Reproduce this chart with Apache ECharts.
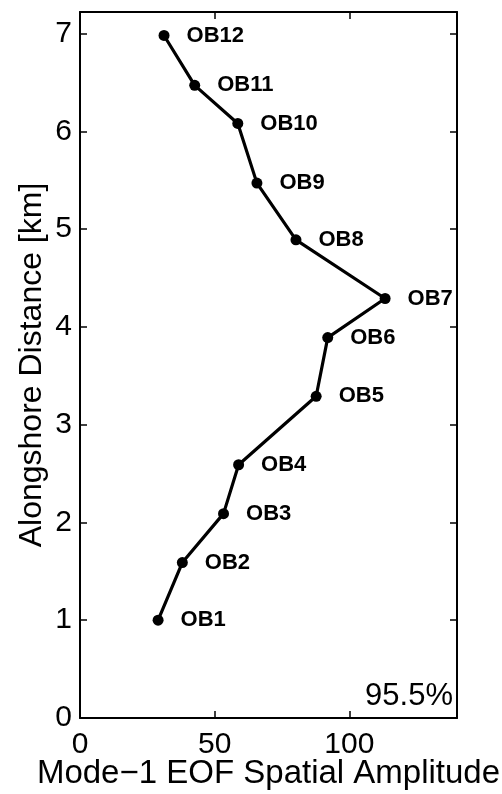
<!DOCTYPE html>
<html>
<head>
<meta charset="utf-8">
<script src="https://cdn.jsdelivr.net/npm/echarts@6/dist/echarts.min.js"></script>
<style>
  html, body { margin: 0; padding: 0; background: #fff; }
  #chart { width: 502px; height: 794px; }
</style>
</head>
<body>
<div id="chart"></div>
<script>
// Station names, alongshore position [km] and mode-1 EOF amplitude
const stations = ['OB1', 'OB2', 'OB3', 'OB4', 'OB5', 'OB6', 'OB7', 'OB8', 'OB9', 'OB10', 'OB11', 'OB12'];
const distanceKm = [1.0, 1.59, 2.09, 2.59, 3.29, 3.89, 4.29, 4.89, 5.47, 6.08, 6.47, 6.98];
const amplitude = [29.0, 38.0, 53.3, 58.9, 87.7, 92.0, 113.3, 80.2, 65.7, 58.6, 42.6, 31.2];
const xTicks = [0, 50, 100];
const yTicks = [0, 1, 2, 3, 4, 5, 6, 7];
const varianceText = '95.5%';

const FONT = 'Liberation Sans, Arial, Helvetica, sans-serif';

const points = amplitude.map((a, i) => ({ value: [a, distanceKm[i]], name: stations[i] }));

const chart = echarts.init(document.getElementById('chart'), null, { renderer: 'canvas' });

const axisLine = { show: true, onZero: false, lineStyle: { color: '#000', width: 2 } };
const innerTick = { show: true, inside: true, length: 7, lineStyle: { color: '#000', width: 1.5 } };

chart.setOption({
  animation: false,
  backgroundColor: '#fff',
  grid: { left: 80, right: 45, top: 12, bottom: 76, containLabel: false, outerBoundsMode: 'none' },
  xAxis: [
    {
      type: 'value', min: 0, max: 140, interval: 50, position: 'bottom',
      name: 'Mode\u22121 EOF Spatial Amplitude', nameLocation: 'middle', nameGap: 39,
      nameMoveOverlap: false,
      nameTextStyle: { fontFamily: FONT, fontSize: 33, color: '#000' },
      axisLine: axisLine, axisTick: innerTick, splitLine: { show: false },
      axisLabel: {
        fontFamily: FONT, fontSize: 30, color: '#000', margin: 12,
        formatter: v => (xTicks.includes(v) ? String(v) : '')
      }
    },
    {
      type: 'value', min: 0, max: 140, interval: 50, position: 'top',
      axisLine: axisLine, axisTick: innerTick, axisLabel: { show: false }, splitLine: { show: false }
    }
  ],
  yAxis: [
    {
      type: 'value', min: 0, max: 7.22, interval: 1, position: 'left',
      name: 'Alongshore Distance [km]', nameLocation: 'middle', nameGap: 32,
      nameMoveOverlap: false,
      nameTextStyle: { fontFamily: FONT, fontSize: 32, color: '#000' },
      axisLine: axisLine, axisTick: innerTick, splitLine: { show: false },
      axisLabel: {
        fontFamily: FONT, fontSize: 30, color: '#000', margin: 8,
        formatter: v => (yTicks.includes(v) ? String(v) : '')
      }
    },
    {
      type: 'value', min: 0, max: 7.22, interval: 1, position: 'right',
      axisLine: axisLine, axisTick: innerTick, axisLabel: { show: false }, splitLine: { show: false }
    }
  ],
  series: [
    {
      type: 'line',
      data: points,
      symbol: 'circle', symbolSize: 11,
      lineStyle: { color: '#000', width: 3.2 },
      itemStyle: { color: '#000' },
      label: {
        show: true, position: 'right', distance: 17,
        formatter: p => p.name,
        fontFamily: FONT, fontSize: 22, fontWeight: 'bold', color: '#000'
      }
    }
  ],
  graphic: [
    {
      type: 'text', right: 49, bottom: 82,
      style: { text: varianceText, fontFamily: FONT, fontSize: 31, fill: '#000' }
    }
  ]
});
</script>
</body>
</html>
